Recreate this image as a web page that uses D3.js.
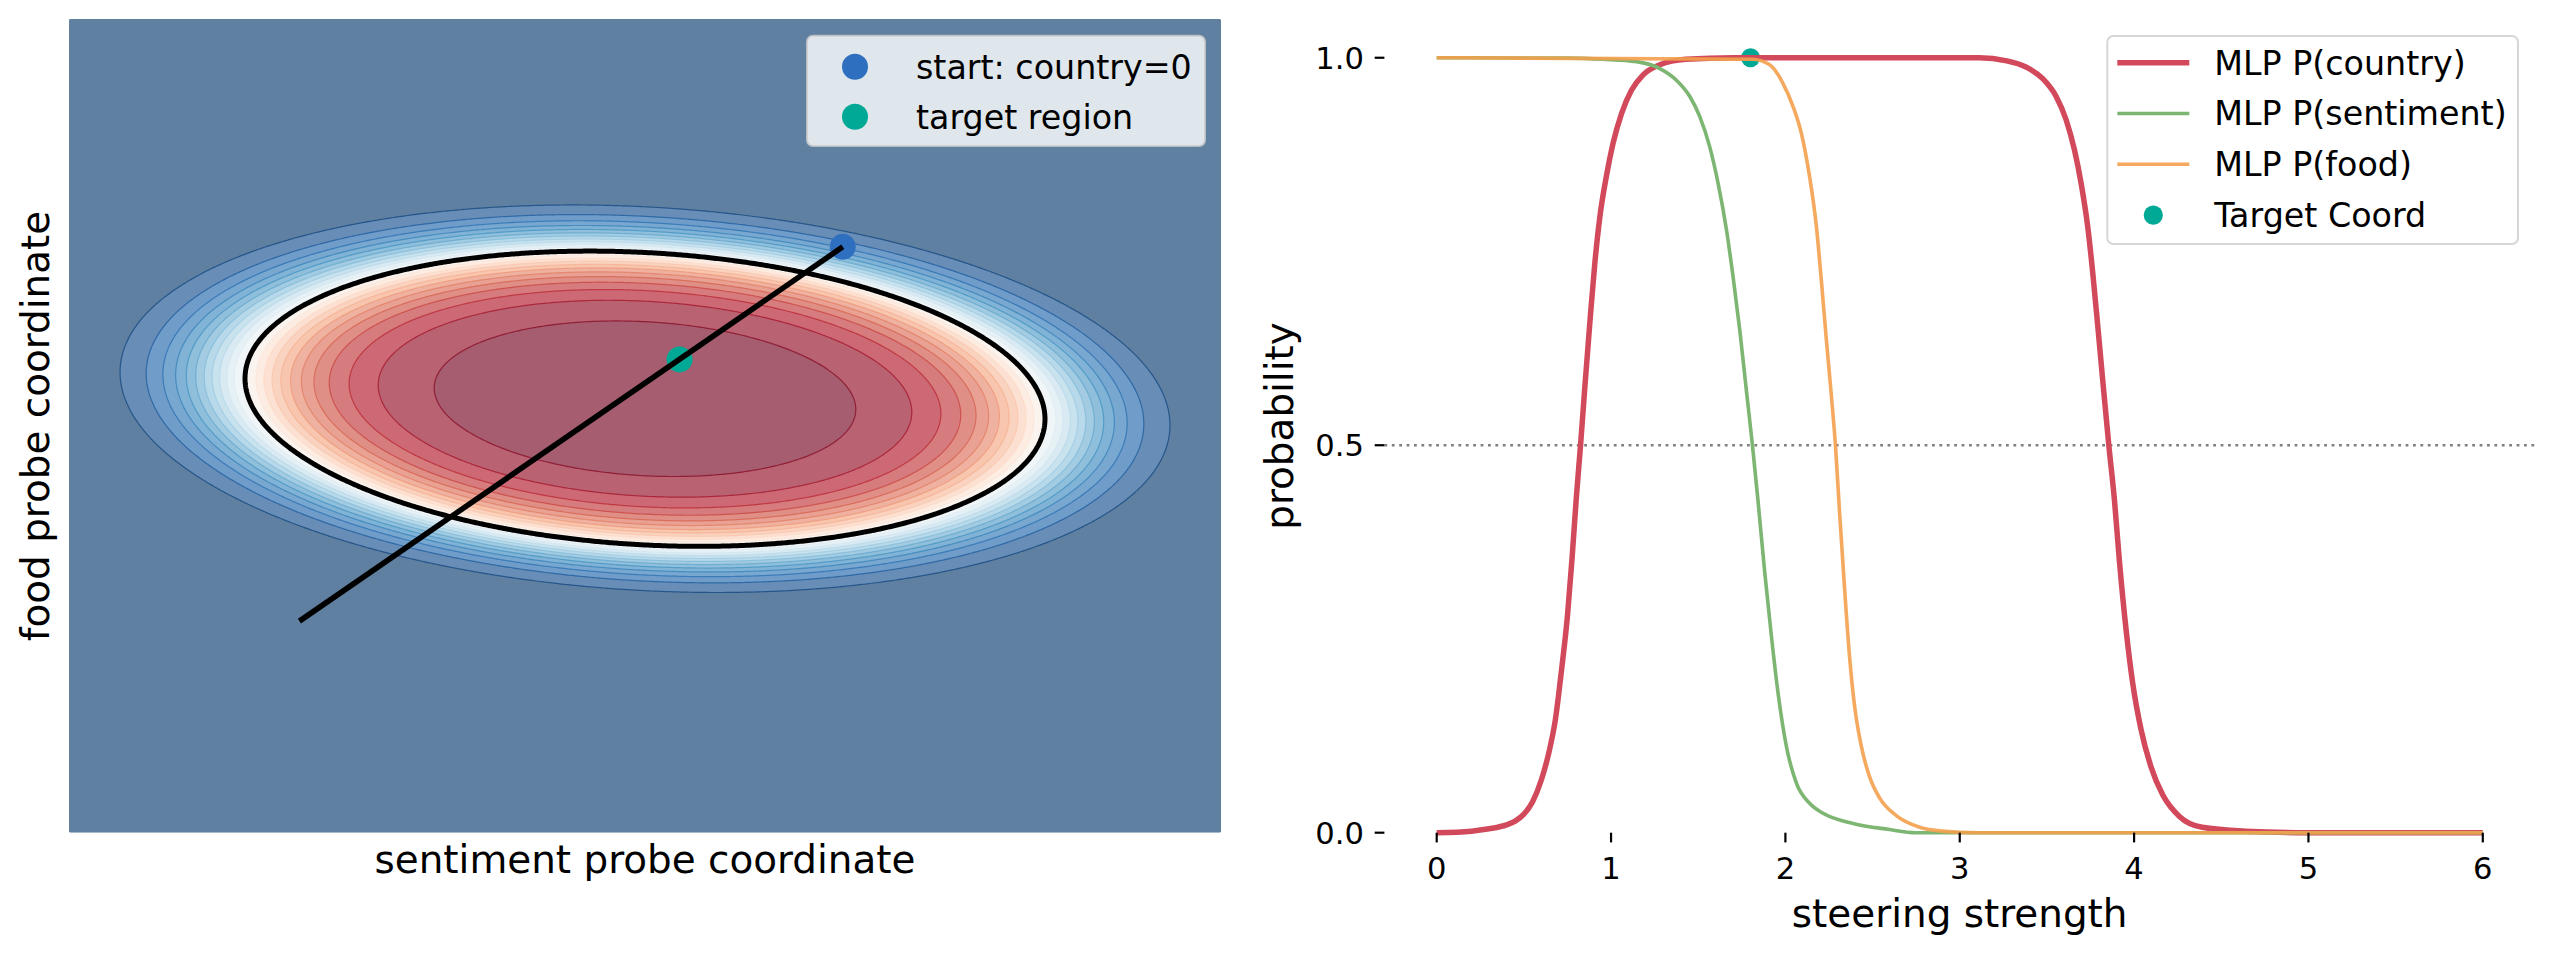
<!DOCTYPE html>
<html>
<head>
<meta charset="utf-8">
<script src="https://cdn.jsdelivr.net/npm/d3@7"></script>
<style>
  body { margin: 0; background: #fff; }
  svg text { font-family: "DejaVu Sans", sans-serif; fill: #000; }
</style>
</head>
<body>
<svg id="fig" width="2555" height="955"></svg>
<script>
// ---- left panel: P(country) over the sentiment / food probe plane ----
const fieldCenter = [0.0, 0.2]            // sentiment, food
const fieldQuad = [0.2348, 0.0615, 0.86]  // a, b, c in a*dx^2 + 2b*dx*dy + c*dy^2
const fieldSteep = 4.4
const fieldLevels = [0, 0.04, 0.08, 0.12, 0.16, 0.2, 0.24, 0.28, 0.32, 0.36, 0.4, 0.44, 0.48,
                     0.52, 0.56, 0.6, 0.64, 0.68, 0.72, 0.76, 0.8, 0.84, 0.88, 0.92, 0.96]
const boundaryLevel = 0.5
const startPt = [1.03, 1.32]
const targetPt = [0.18, 0.49]
const pathEnd = [-1.8, -1.44]
const leftLegend = ["start: country=0", "target region"]

// ---- right panel: probabilities vs steering strength ----
const countryPts = [[0, 0], [0.2, 0.002], [0.3, 0.005], [0.4, 0.01], [0.45, 0.015], [0.5, 0.024],
  [0.55, 0.04], [0.6, 0.068], [0.65, 0.11], [0.68, 0.145], [0.716, 0.21], [0.75, 0.28], [0.777, 0.356],
  [0.8, 0.43], [0.825, 0.5], [0.85, 0.576], [0.879, 0.66], [0.907, 0.735], [0.936, 0.795],
  [0.974, 0.848], [1.012, 0.89], [1.06, 0.928], [1.117, 0.958], [1.184, 0.978], [1.28, 0.991],
  [1.43, 0.998], [1.7, 1.0], [3.11, 1.0], [3.27, 0.996], [3.38, 0.988], [3.476, 0.973], [3.553, 0.95],
  [3.61, 0.92], [3.658, 0.881], [3.696, 0.838], [3.734, 0.782], [3.763, 0.722], [3.792, 0.653],
  [3.82, 0.584], [3.855, 0.5], [3.887, 0.43], [3.916, 0.35], [3.954, 0.262], [3.992, 0.193],
  [4.04, 0.133], [4.097, 0.085], [4.164, 0.049], [4.26, 0.021], [4.39, 0.007], [4.64, 0.002],
  [5.0, 0], [6.0, 0]]
const sentimentPts = [[0, 1.0], [0.76, 0.9995], [0.955, 0.998], [1.146, 0.995], [1.28, 0.986],
  [1.375, 0.971], [1.452, 0.95], [1.509, 0.924], [1.566, 0.885], [1.614, 0.838], [1.662, 0.778],
  [1.7, 0.717], [1.738, 0.649], [1.776, 0.571], [1.811, 0.5], [1.843, 0.428], [1.881, 0.337],
  [1.92, 0.253], [1.958, 0.18], [2.006, 0.111], [2.063, 0.064], [2.139, 0.038], [2.216, 0.025],
  [2.388, 0.012], [2.588, 0.0044], [2.75, 0], [6.0, 0]]
const foodPts = [[0, 1.0], [1.81, 0.998], [1.91, 0.991], [1.986, 0.967], [2.044, 0.937], [2.092, 0.902],
  [2.139, 0.846], [2.178, 0.782], [2.206, 0.713], [2.235, 0.636], [2.264, 0.563], [2.287, 0.5],
  [2.311, 0.412], [2.34, 0.313], [2.368, 0.227], [2.397, 0.163], [2.436, 0.111], [2.483, 0.072],
  [2.54, 0.045], [2.636, 0.022], [2.77, 0.007], [2.9, 0.002], [3.1, 0], [6.0, 0]]
const targetCoord = [1.8, 1.0]
const xTicks = [0, 1, 2, 3, 4, 5, 6]
const yTicks = [0, 0.5, 1.0]
const series = [
  {name: "MLP P(country)", pts: countryPts, color: "#d1495b", width: 5.5, opacity: 1},
  {name: "MLP P(sentiment)", pts: sentimentPts, color: "#7db672", width: 3.6, opacity: 1},
  {name: "MLP P(food)", pts: foodPts, color: "#f3a04c", width: 3.6, opacity: 0.9}
]

const svg = d3.select("#fig")
svg.append("rect").attr("width", 2555).attr("height", 955).attr("fill", "#fff")

const tickFont = 30.6, legendFont = 33.3, labelFont = 38.9

// matplotlib RdBu_r
const rdbu = ["#053061", "#2166ac", "#4393c3", "#92c5de", "#d1e5f0", "#f7f7f7",
              "#fddbc7", "#f4a582", "#d6604d", "#b2182b", "#67001f"]
const cmap = d3.scaleLinear().domain(d3.range(11).map(i => i / 10)).range(rdbu)
const fillAlpha = 0.65
function overWhite(c, a) {
  const k = d3.rgb(c)
  return d3.rgb(k.r * a + 255 * (1 - a), k.g * a + 255 * (1 - a), k.b * a + 255 * (1 - a)).formatHex()
}

// ================= left panel =================
const xL = d3.scaleLinear().domain([-3, 3]).range([69, 1221])
const yL = d3.scaleLinear().domain([-3, 3]).range([832.7, 19])

const nx = 576, ny = 407
const gx = d3.scaleLinear().domain([0, nx]).range(xL.domain())
const gy = d3.scaleLinear().domain([0, ny]).range([3, -3])
const values = new Float64Array(nx * ny)
for (let j = 0; j < ny; j++) {
  for (let i = 0; i < nx; i++) {
    const dx = gx(i + 0.5) - fieldCenter[0], dy = gy(j + 0.5) - fieldCenter[1]
    const q = fieldQuad[0] * dx * dx + 2 * fieldQuad[1] * dx * dy + fieldQuad[2] * dy * dy
    values[j * nx + i] = 1 / (1 + Math.exp(-fieldSteep * (1 - q)))
  }
}
const gridToPx = d3.geoTransform({
  point: function(x, y) { this.stream.point(xL(gx(x)), yL(gy(y))) }
})
const path = d3.geoPath(gridToPx)

const left = svg.append("g")
left.append("clipPath").attr("id", "clipL").append("rect")
  .attr("x", 69).attr("y", 19).attr("width", 1152).attr("height", 813.7)
const plane = left.append("g").attr("clip-path", "url(#clipL)")

const bands = d3.contours().size([nx, ny]).thresholds(fieldLevels)(values)
plane.selectAll("path.band").data(bands).enter().append("path")
  .attr("class", "band")
  .attr("d", path)
  .attr("fill", d => overWhite(cmap(d.value + 0.02), fillAlpha))
  .attr("stroke", "none")
// faint seams between filled bands
plane.selectAll("path.seam").data(bands.filter(d => d.value > 0)).enter().append("path")
  .attr("class", "seam")
  .attr("d", path)
  .attr("fill", "none")
  .attr("stroke", d => cmap(d.value))
  .attr("stroke-opacity", 0.75)
  .attr("stroke-width", 1.2)

const edge = d3.contours().size([nx, ny]).thresholds([boundaryLevel])(values)
plane.selectAll("path.edge").data(edge).enter().append("path")
  .attr("d", path)
  .attr("fill", "none")
  .attr("stroke", "#000")
  .attr("stroke-width", 5)

const startColor = "#2f6fbf", targetColor = "#00a896"
plane.append("circle").attr("cx", xL(startPt[0])).attr("cy", yL(startPt[1])).attr("r", 13).attr("fill", startColor)
plane.append("circle").attr("cx", xL(targetPt[0])).attr("cy", yL(targetPt[1])).attr("r", 13).attr("fill", targetColor)
plane.append("line")
  .attr("x1", xL(startPt[0])).attr("y1", yL(startPt[1]))
  .attr("x2", xL(pathEnd[0])).attr("y2", yL(pathEnd[1]))
  .attr("stroke", "#000").attr("stroke-width", 5.5)

// legend (upper right)
const legL = left.append("g")
legL.append("rect").attr("x", 807).attr("y", 35.7).attr("width", 398).attr("height", 110.3)
  .attr("rx", 6).attr("fill", "rgba(255,255,255,0.8)").attr("stroke", "rgba(204,204,204,0.8)").attr("stroke-width", 2)
leftLegend.forEach((label, i) => {
  const cy = 66.7 + i * 50
  legL.append("circle").attr("cx", 855).attr("cy", cy).attr("r", 13).attr("fill", i === 0 ? startColor : targetColor)
  legL.append("text").attr("x", 916).attr("y", cy + 0.36 * legendFont)
    .style("font-size", legendFont + "px").text(label)
})

left.append("text").attr("x", 645).attr("y", 873).attr("text-anchor", "middle")
  .style("font-size", labelFont + "px").text("sentiment probe coordinate")
left.append("text").attr("transform", "translate(49,426) rotate(-90)").attr("text-anchor", "middle")
  .style("font-size", labelFont + "px").text("food probe coordinate")

// ================= right panel =================
const xR = d3.scaleLinear().domain([-0.3, 6.3]).range([1384.4, 2535.1])
const yR = d3.scaleLinear().domain([0, 1.05]).range([832.7, 19])
const right = svg.append("g")

right.append("line")
  .attr("x1", xR(-0.3)).attr("x2", xR(6.3)).attr("y1", yR(0.5)).attr("y2", yR(0.5))
  .attr("stroke", "#808080").attr("stroke-width", 2.6).attr("stroke-dasharray", "2.8 4.6")

right.append("circle").attr("cx", xR(targetCoord[0])).attr("cy", yR(targetCoord[1]))
  .attr("r", 9.5).attr("fill", targetColor)

const line = d3.line().x(d => xR(d[0])).y(d => yR(d[1])).curve(d3.curveMonotoneX)
series.forEach(s => {
  right.append("path").attr("d", line(s.pts))
    .attr("fill", "none").attr("stroke", s.color).attr("stroke-width", s.width)
    .attr("stroke-opacity", s.opacity).attr("stroke-linejoin", "round")
})

// ticks (no spines)
xTicks.forEach(t => {
  right.append("line").attr("x1", xR(t)).attr("x2", xR(t)).attr("y1", 832.7).attr("y2", 842.4)
    .attr("stroke", "#000").attr("stroke-width", 2.2)
  right.append("text").attr("x", xR(t)).attr("y", 879.3).attr("text-anchor", "middle")
    .style("font-size", tickFont + "px").text(d3.format("d")(t))
})
yTicks.forEach(t => {
  right.append("line").attr("x1", 1374.7).attr("x2", 1384.4).attr("y1", yR(t)).attr("y2", yR(t))
    .attr("stroke", "#000").attr("stroke-width", 2.2)
  right.append("text").attr("x", 1364).attr("y", yR(t) + 0.36 * tickFont).attr("text-anchor", "end")
    .style("font-size", tickFont + "px").text(d3.format(".1f")(t))
})

right.append("text").attr("x", 1959.7).attr("y", 927).attr("text-anchor", "middle")
  .style("font-size", labelFont + "px").text("steering strength")
right.append("text").attr("transform", "translate(1293,426) rotate(-90)").attr("text-anchor", "middle")
  .style("font-size", labelFont + "px").text("probability")

// legend (upper right)
const legR = right.append("g")
legR.append("rect").attr("x", 2107.3).attr("y", 36).attr("width", 410.7).attr("height", 208)
  .attr("rx", 6).attr("fill", "rgba(255,255,255,0.8)").attr("stroke", "rgba(204,204,204,0.8)").attr("stroke-width", 2)
const legendItems = series.map(s => ({name: s.name, color: s.color, width: s.width, opacity: s.opacity, kind: "line"}))
  .concat([{name: "Target Coord", color: targetColor, kind: "dot"}])
legendItems.forEach((it, i) => {
  const cy = 62.7 + i * 50.8
  if (it.kind === "line") {
    legR.append("line").attr("x1", 2117.3).attr("x2", 2189.3).attr("y1", cy).attr("y2", cy)
      .attr("stroke", it.color).attr("stroke-width", it.width).attr("stroke-opacity", it.opacity)
  } else {
    legR.append("circle").attr("cx", 2153.3).attr("cy", cy).attr("r", 9.6).attr("fill", it.color)
  }
  legR.append("text").attr("x", 2214.3).attr("y", cy + 0.36 * legendFont)
    .style("font-size", legendFont + "px").text(it.name)
})
</script>
</body>
</html>
